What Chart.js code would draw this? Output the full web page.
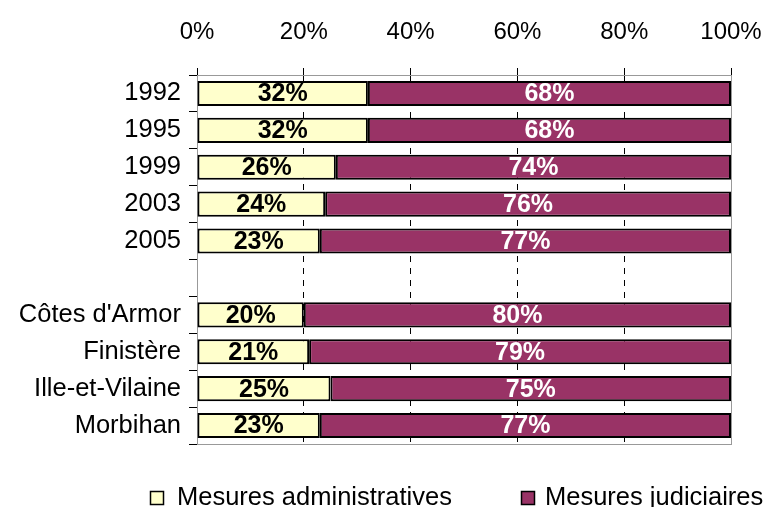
<!DOCTYPE html>
<html>
<head>
<meta charset="utf-8">
<script src="https://cdn.jsdelivr.net/npm/chart.js@4"></script>
<style>
  html, body { margin: 0; padding: 0; background: #fff; }
  #wrap { width: 765px; height: 507px; }
</style>
</head>
<body>
<div id="wrap"><canvas id="chart"></canvas></div>
<script>
// categories (empty slot separates years and departements)
const categories = ['1992', '1995', '1999', '2003', '2005', '', "Côtes d'Armor", 'Finistère', 'Ille-et-Vilaine', 'Morbihan'];
const administratives = [32, 32, 26, 24, 23, null, 20, 21, 25, 23];
const judiciaires = [68, 68, 74, 76, 77, null, 80, 79, 75, 77];
const xTicks = [0, 20, 40, 60, 80, 100];

const FONT = '"Liberation Sans", Arial, sans-serif';
Chart.defaults.font.family = FONT;
Chart.defaults.font.size = 24;
Chart.defaults.color = '#000';

// grey frame around plot area (right and bottom visible)
const frame = {
    id: 'frame',
    beforeDatasetsDraw(chart) {
        const a = chart.chartArea, ctx = chart.ctx;
        ctx.save();
        ctx.strokeStyle = '#999';
        ctx.lineWidth = 1;
        ctx.strokeRect(a.left + 0.5, a.top + 0.5, a.right - a.left, a.bottom - a.top);
        ctx.restore();
    }
};

// percentage labels in the middle of each segment
const valueLabels = {
    id: 'valueLabels',
    afterDatasetsDraw(chart) {
        const ctx = chart.ctx;
        ctx.save();
        ctx.font = 'bold 25px ' + FONT;
        ctx.textAlign = 'center';
        ctx.textBaseline = 'middle';
        chart.data.datasets.forEach((ds, di) => {
            const meta = chart.getDatasetMeta(di);
            meta.data.forEach((bar, i) => {
                const v = ds.data[i];
                if (v === null) return;
                const p = bar.getProps(['x', 'y', 'base'], true);
                ctx.fillStyle = di === 0 ? '#000' : '#fff';
                ctx.fillText(v + '%', (p.x + p.base) / 2, p.y + 1);
            });
        });
        ctx.restore();
    }
};

// legend drawn by hand so the spacing matches the original
const bottomLegend = {
    id: 'bottomLegend',
    afterDraw(chart) {
        const ctx = chart.ctx;
        const slots = [150, 521];
        ctx.save();
        ctx.font = '25.5px ' + FONT;
        ctx.textBaseline = 'alphabetic';
        ctx.textAlign = 'left';
        chart.data.datasets.forEach((ds, i) => {
            const x = slots[i];
            ctx.fillStyle = ds.backgroundColor;
            ctx.fillRect(x, 491, 14, 14);
            ctx.strokeStyle = '#000';
            ctx.lineWidth = 1.5;
            ctx.strokeRect(x + 0.5, 491.5, 13, 13);
            ctx.fillStyle = '#000';
            ctx.fillText(ds.label, x + (i === 0 ? 27 : 24), 505);
        });
        ctx.restore();
    }
};

new Chart(document.getElementById('chart'), {
    type: 'bar',
    data: {
        labels: categories,
        datasets: [{
            label: 'Mesures administratives',
            data: administratives,
            backgroundColor: '#FFFFCC',
            borderColor: '#000',
            borderWidth: 2,
            borderSkipped: false
        }, {
            label: 'Mesures judiciaires',
            data: judiciaires,
            backgroundColor: '#993366',
            borderColor: '#000',
            borderWidth: 2,
            borderSkipped: false
        }]
    },
    options: {
        indexAxis: 'y',
        responsive: true,
        maintainAspectRatio: false,
        animation: false,
        datasets: {
            bar: { categoryPercentage: 1, barPercentage: 0.68 }
        },
        layout: { padding: { left: 0, right: 0, top: 0, bottom: 63 } },
        scales: {
            x: {
                position: 'top',
                stacked: true,
                min: 0,
                max: 100,
                afterBuildTicks(scale) {
                    scale.ticks = xTicks.map(v => ({ value: v }));
                },
                afterFit(scale) {
                    scale.height = 75;
                    scale.paddingRight = 34;
                    scale.paddingLeft = 0;
                },
                ticks: {
                    padding: 21,
                    font: { size: 24 },
                    callback: v => v + '%'
                },
                grid: {
                    color: ctx => (ctx.tick && ctx.tick.value > 0 && ctx.tick.value < 100) ? '#000' : 'rgba(0,0,0,0)',
                    tickColor: '#000',
                    tickLength: 7,
                    tickBorderDash: []
                },
                border: { color: '#333', width: 1, dash: [6, 6] }
            },
            y: {
                stacked: true,
                afterFit(scale) {
                    scale.width = 197;
                    scale.paddingTop = 0;
                    scale.paddingBottom = 0;
                },
                ticks: { padding: 8, font: { size: 25.5 } },
                grid: {
                    drawOnChartArea: false,
                    color: '#000',
                    tickLength: 8
                },
                border: { color: '#000', width: 1 }
            }
        },
        plugins: {
            legend: { display: false },
            tooltip: { enabled: false }
        }
    },
    plugins: [frame, valueLabels, bottomLegend]
});
</script>
</body>
</html>
